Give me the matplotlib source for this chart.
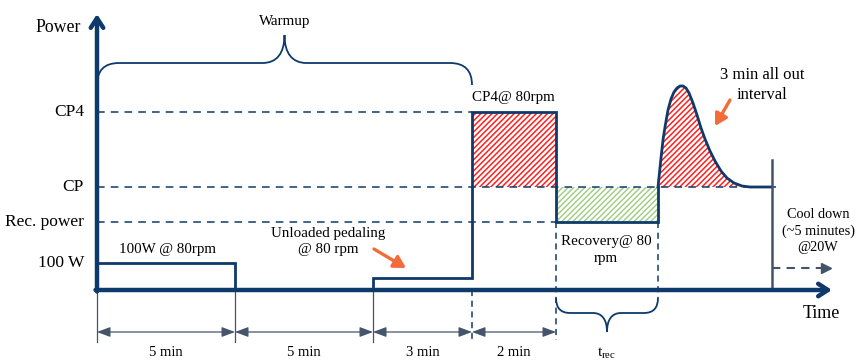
import matplotlib
matplotlib.use("Agg")
import matplotlib.pyplot as plt
from matplotlib.path import Path
from matplotlib.patches import PathPatch

# ---------------- data (schematic units) ----------------
# time axis positions of the protocol phase boundaries
phase_edges = [0, 138, 276, 375, 459, 561, 675]
phase_labels = ["5 min", "5 min", "3 min", "2 min"]
# power levels
level_names = ["CP4", "CP", "Rec. power", "100 W"]
level_values = [178, 103, 68, 27]
unloaded_power = 12
# 3-min all-out interval (time, power)
allout_t = [561, 564, 566, 568, 571, 574, 577, 580, 583, 586, 589, 592, 596, 600,
            604, 608, 613, 618, 624, 630, 637, 645, 653, 662, 675]
allout_p = [103, 132, 150, 163, 180, 191, 198, 202, 204, 204, 202, 197, 187, 175,
            162, 151, 139, 129, 119, 112, 107, 104, 103, 103, 103]

NAVY = "#0E3A6B"
GREY = "#44546A"
ORANGE = "#F26B38"
RED = "#FF2020"
GREEN = "#A3CF88"

plt.rcParams["font.family"] = ["Liberation Serif", "DejaVu Serif"]
plt.rcParams["hatch.linewidth"] = 1.1

fig = plt.figure(figsize=(8.63, 3.64), dpi=100)
ax = fig.add_axes([0, 0, 1, 1])
ax.set_xlim(-97, 766)
ax.set_ylim(-74, 290)
ax.axis("off")

t0, t5, t10, t13, t15, trec, tcool = phase_edges
CP4, CP, REC, P100 = level_values

# ---------------- hatched areas ----------------
ax.fill_between([t13, t15], CP, CP4, facecolor="none", edgecolor=RED,
                hatch="//////", linewidth=0, zorder=1)
ax.fill_between([t15, trec], REC, CP, facecolor="none", edgecolor=GREEN,
                hatch="//////", linewidth=0, zorder=1)
ax.fill_between(allout_t, CP, allout_p, facecolor="none", edgecolor=RED,
                hatch="//////", linewidth=0, zorder=1)

# ---------------- dashed reference levels ----------------
dash = dict(color=NAVY, lw=1.1, ls=(0, (5, 4)), zorder=2)
ax.plot([t0, t13], [CP4, CP4], **dash)
ax.plot([t0, tcool + 4], [CP, CP], **dash)
ax.plot([t0, t15], [REC, REC], **dash)

# ---------------- power profile ----------------
prof_t = [t0, t5, t5, t10, t10, t13, t13, t15, t15, trec, trec]
prof_p = [P100, P100, 0, 0, unloaded_power, unloaded_power, CP4, CP4, REC, REC, CP]
ax.plot(prof_t, prof_p, color=NAVY, lw=2.0, solid_joinstyle="miter", zorder=3)
ax.plot(allout_t, allout_p, color=NAVY, lw=2.0, zorder=3)

# cool down marker line
ax.plot([tcool, tcool], [0, 130], color=GREY, lw=1.8, zorder=3)
ax.plot([tcool, tcool + 50], [22, 22], color=GREY, lw=1.5, ls=(0, (4, 3)), zorder=3)
ax.plot([tcool + 54], [22], marker=">", color=GREY, ms=7, zorder=3)

# ---------------- axes arrows ----------------
ax.annotate("", xy=(t0, 276), xytext=(t0, -1.5),
            arrowprops=dict(arrowstyle="->,head_length=0.7,head_width=0.45",
                            color=NAVY, lw=3.2, shrinkA=0, shrinkB=0), zorder=4)
ax.annotate("", xy=(735, 0), xytext=(t0 - 1.5, 0),
            arrowprops=dict(arrowstyle="->,head_length=0.7,head_width=0.45",
                            color=NAVY, lw=3.2, shrinkA=0, shrinkB=0), zorder=4)

# ---------------- level labels ----------------
for name, val in zip(level_names, level_values):
    ax.text(-13, val, name, ha="right", va="center", fontsize=12.5, color="black")
ax.text(-16, 263, "Power", ha="right", va="center", fontsize=12.8)
ax.text(724, -23, "Time", ha="center", va="center", fontsize=13)

# ---------------- dimension lines ----------------
dim_y = -42
for x in phase_edges[:3]:
    ax.plot([x, x], [0, -52], color=GREY, lw=0.9, zorder=2)
ax.plot([t13, t13], [0, -50], color=NAVY, lw=1.1, ls=(0, (4, 3)), zorder=2)
ax.plot([t15, t15], [REC, -50], color=NAVY, lw=1.1, ls=(0, (4, 3)), zorder=2)
ax.plot([trec, trec], [REC, -8], color=NAVY, lw=1.1, ls=(0, (4, 3)), zorder=2)
for a, b, lab in zip(phase_edges[:4], phase_edges[1:5], phase_labels):
    ax.annotate("", xy=(b, dim_y), xytext=(a, dim_y),
                arrowprops=dict(arrowstyle="<|-|>,head_length=0.8,head_width=0.3",
                                color=GREY, lw=0.9, shrinkA=0, shrinkB=0))
    ax.text((a + b) / 2, -62, lab, ha="center", va="center", fontsize=10.5)


# ---------------- braces ----------------
def brace(x0, x1, yb, yend, ytip, r):
    xm = (x0 + x1) / 2
    verts = [(x0, yend), (x0, yb), (x0 + r, yb),
             (xm - r, yb),
             (xm - r * 0.35, yb), (xm, yb + (ytip - yb) * 0.35), (xm, ytip),
             (xm, yb + (ytip - yb) * 0.35), (xm + r * 0.35, yb), (xm + r, yb),
             (x1 - r, yb),
             (x1, yb), (x1, yend)]
    codes = [Path.MOVETO, Path.CURVE3, Path.CURVE3,
             Path.LINETO,
             Path.CURVE4, Path.CURVE4, Path.CURVE4,
             Path.CURVE4, Path.CURVE4, Path.CURVE4,
             Path.LINETO,
             Path.CURVE3, Path.CURVE3]
    ax.add_patch(PathPatch(Path(verts, codes), facecolor="none",
                           edgecolor=NAVY, lw=1.3, zorder=3))
    return xm


xm = brace(t0, t13, 227, 205, 255, 22)
ax.text(xm, 268, "Warmup", ha="center", va="center", fontsize=10.8)
xm = brace(t15, trec, -23, -8, -42, 14)
ax.text(xm, -63, "t$_{\\mathregular{rec}}$", ha="center", va="center", fontsize=11)

# ---------------- annotations ----------------
ax.text(70, 41, "100W @ 80rpm", ha="center", va="center", fontsize=10.8)
ax.text(231, 48, "Unloaded pedaling\n@ 80 rpm", ha="center", va="center",
        fontsize=10.8, linespacing=1.3)
ax.text(416, 193, "CP4@ 80rpm", ha="center", va="center", fontsize=10.8)
ax.text(509, 40, "Recovery@ 80\nrpm", ha="center", va="center",
        fontsize=10.8, linespacing=1.4)
ax.text(665, 205, "3 min all out\ninterval", ha="center", va="center",
        fontsize=12, linespacing=1.35)
ax.text(721, 59, "Cool down\n(~5 minutes)\n@20W", ha="center", va="center",
        fontsize=10.3, linespacing=1.35)

arrow_kw = dict(arrowstyle="-|>,head_length=0.7,head_width=0.4", color=ORANGE,
                lw=2.4, shrinkA=0, shrinkB=0)
ax.annotate("", xy=(309, 22), xytext=(277, 41), arrowprops=arrow_kw)
ax.annotate("", xy=(618, 164), xytext=(633, 190), arrowprops=arrow_kw)

fig.savefig("out.png", dpi=100)
